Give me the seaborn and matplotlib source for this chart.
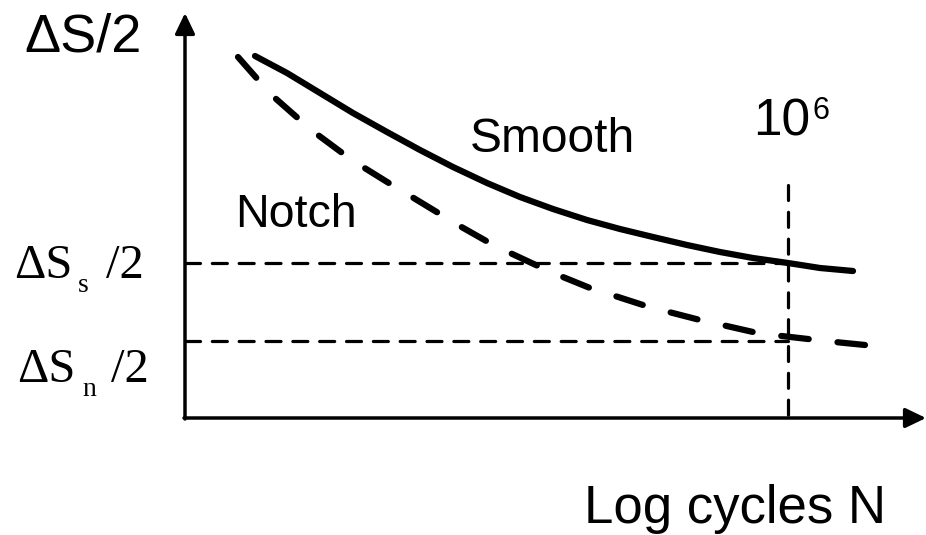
import matplotlib
matplotlib.use("Agg")
import matplotlib.pyplot as plt
import seaborn as sns
import pandas as pd
import numpy as np

# Schematic S-N curves (x: log cycles, y: stress amplitude; arbitrary units)
smooth_x = [70, 102, 135, 168, 202, 235, 268, 302, 335, 368, 402, 435, 468,
            502, 535, 568, 603, 635, 668]
smooth_y = [362, 345, 325, 305, 286, 268, 251, 235, 221, 209, 198, 189, 181,
            173, 166, 160, 155, 150, 147]
notch_x = [53, 75, 90, 115, 133, 160, 178, 207, 227, 255, 273, 303, 323, 353,
           373, 405, 427, 458, 480, 513, 533, 568, 588, 623, 645, 680]
notch_y = [361, 336, 320, 298, 283, 263, 251, 233, 221, 204, 193, 176, 166,
           152, 143, 130, 123, 113, 107, 98.5, 94, 86, 83, 79, 76.5, 73]
endurance_x = 603          # 10^6 cycles
level_smooth = 155         # ΔS_s/2
level_notch = 77           # ΔS_n/2

sns.set_style("white")
plt.rcParams['font.family'] = ['Liberation Sans', 'DejaVu Sans']
plt.rcParams['text.color'] = 'black'

fig = plt.figure(figsize=(9.26, 5.35), dpi=100)
ax = fig.add_axes([0, 0, 1, 1])
ax.set_xlim(-185, 741)
ax.set_ylim(-117, 418)
ax.axis('off')

df_s = pd.DataFrame({'x': smooth_x, 'y': smooth_y})
df_n = pd.DataFrame({'x': notch_x, 'y': notch_y})
sns.lineplot(data=df_s, x='x', y='y', ax=ax, color='black', lw=4.5, sort=False)
ax.lines[-1].set_solid_capstyle('round')
ax.lines[-1].set_solid_joinstyle('round')
sns.lineplot(data=df_n, x='x', y='y', ax=ax, color='black', lw=4.5, sort=False)
line_n = ax.lines[-1]

# fit the dash pattern so both ends of the notch curve finish on a dash
lw_px = 4.5 * fig.dpi / 72
on, off = 4.3, 4.5
pix = ax.transData.transform(np.column_stack([notch_x, notch_y]))
L = np.hypot(*np.diff(pix, axis=0).T).sum() / lw_px
n = round((L - on) / (on + off))
k = L / (n * (on + off) + on)
line_n.set_dashes([on * k, off * k])
line_n.set_dash_capstyle('round')
line_n.set_dash_joinstyle('round')

# reference lines
ref_kw = dict(color='black', lw=2.3, dashes=(4.7, 3.7), dash_capstyle='round')
ax.plot([0, endurance_x], [level_smooth, level_smooth], **ref_kw)
ax.plot([0, endurance_x], [level_notch, level_notch], **ref_kw)
ax.plot([endurance_x, endurance_x], [233, -6], **ref_kw)

# axes with arrows
arrow = dict(arrowstyle='-|>,head_length=1.25,head_width=0.6',
             color='black', lw=2.5, shrinkA=0, shrinkB=0)
ax.annotate('', xy=(0, 405), xytext=(0, -1), arrowprops=arrow)
ax.annotate('', xy=(741, 0), xytext=(-1, 0), arrowprops=arrow)

# labels
ax.text(-102, 366, 'ΔS/2', fontsize=39, ha='center', va='baseline')
ax.text(367, 266, 'Smooth', fontsize=34.5, ha='center', va='baseline')
ax.text(111, 191, 'Notch', fontsize=33.5, ha='center', va='baseline')
ax.text(625, 283, '10', fontsize=37, ha='right', va='baseline')
ax.text(628, 299, '6', fontsize=22, ha='left', va='baseline')
ax.text(550, -105, 'Log cycles N', fontsize=38, ha='center', va='baseline')

serif = ['Liberation Serif', 'DejaVu Serif']
ax.text(-171, 140, 'ΔS', fontsize=35, family=serif, ha='left', va='baseline')
ax.text(-107, 126, 's', fontsize=20, family=serif, ha='left', va='baseline')
ax.text(-79, 140, '/2', fontsize=35, family=serif, ha='left', va='baseline')
ax.text(-168, 36, 'ΔS', fontsize=35, family=serif, ha='left', va='baseline')
ax.text(-103, 22, 'n', fontsize=20, family=serif, ha='left', va='baseline')
ax.text(-74, 36, '/2', fontsize=35, family=serif, ha='left', va='baseline')

fig.savefig('out.png', dpi=100)
